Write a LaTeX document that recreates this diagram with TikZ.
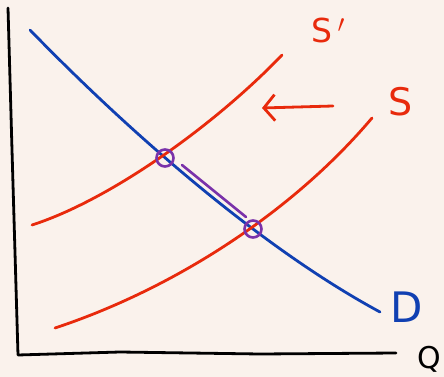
\documentclass[tikz,border=0pt]{standalone}
\usepackage{fontspec}
\setmainfont{DejaVu Sans}
\usetikzlibrary{arrows.meta, positioning}
\definecolor{paper}{RGB}{250,242,236}
\definecolor{supplyred}{RGB}{232,42,12}
\definecolor{demandblue}{RGB}{16,64,178}
\definecolor{eqpurple}{RGB}{122,50,170}

\begin{document}
\begin{tikzpicture}[
        x=1pt, y=-1pt,
        axisline/.style={
            line width=2.8pt,
            black,
            line cap=round,
            line join=round
        },
        supply/.style={
            line width=2.8pt,
            supplyred,
            line cap=round
        },
        demand/.style={
            line width=2.8pt,
            demandblue,
            line cap=round
        },
        shiftarrow/.style={
            -{Straight Barb[length=11pt, width=26pt, line width=2.8pt]},
            line width=2.8pt,
            supplyred,
            line cap=round
        },
        eqmark/.style={
            draw=eqpurple,
            line width=2.6pt,
            circle,
            minimum size=17pt,
            inner sep=0pt
        },
        curvelabel/.style={
            font=\fontsize{36}{36}\selectfont,
            inner sep=0pt
        }
    ]

        % ---------------------------------------------------------------------
        % Page
        % ---------------------------------------------------------------------

        \fill[paper] (0,0) rectangle (444,377);
        \useasboundingbox (0,0) rectangle (444,377);

        % ---------------------------------------------------------------------
        % Axes
        % ---------------------------------------------------------------------

        \coordinate (ytop) at (8,8);
        \coordinate (origin) at (18,355);
        \coordinate (xend) at (396,353);

        \draw[axisline] (ytop) -- (12,150) -- (origin)
            -- (120,352) -- (260,354) -- (xend);

        \node[curvelabel, anchor=east, font=\fontsize{30}{30}\selectfont]
            (qlabel) at (441,359) {Q};

        % ---------------------------------------------------------------------
        % Demand and the two supply curves
        % ---------------------------------------------------------------------

        \draw[demand] (30,30) .. controls (135,138) and (265,250) .. (380,312);
        \node[curvelabel, demandblue, font=\fontsize{42}{42}\selectfont]
            (dlabel) at (407,307) {D};

        \draw[supply] (55,328) .. controls (170,290) and (290,215) .. (372,118);
        \node[curvelabel, supplyred, font=\fontsize{38}{38}\selectfont]
            (slabel) at (401,102) {S};

        \draw[supply] (32,225) .. controls (110,200) and (215,125) .. (282,55);
        \node[curvelabel, supplyred, font=\fontsize{33}{33}\selectfont]
            (snewlabel) at (328,30) {S\,$'$};

        % ---------------------------------------------------------------------
        % Shift to the left
        % ---------------------------------------------------------------------

        \coordinate (shiftfrom) at (333,106);
        \coordinate (shiftto) at (262,108);
        \draw[shiftarrow] (shiftfrom) -- (shiftto);

        % ---------------------------------------------------------------------
        % Equilibria
        % ---------------------------------------------------------------------

        \node[eqmark] (eqnew) at (165,158) {};
        \node[eqmark] (eqold) at (253,229) {};

        \draw[eqpurple, line width=2.6pt, line cap=round]
            ([shift={(17,7)}]eqnew.center) -- ([shift={(-7,-12)}]eqold.center);

    \end{tikzpicture}
\end{document}
